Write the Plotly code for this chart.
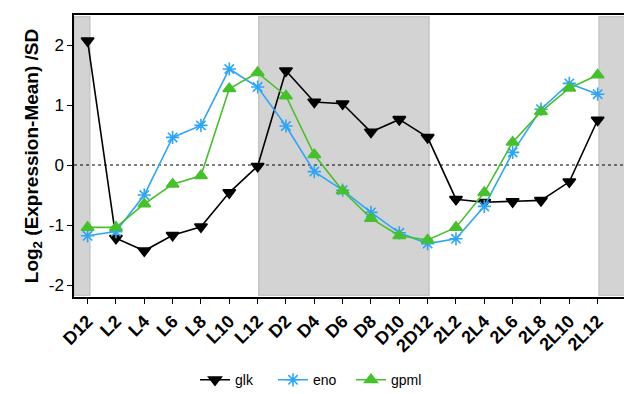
import plotly.graph_objects as go

# Time points (hours in light / dark phases)
timepoints = ["D12", "L2", "L4", "L6", "L8", "L10", "L12", "D2", "D4", "D6",
              "D8", "D10", "2D12", "2L2", "2L4", "2L6", "2L8", "2L10", "2L12"]

glk = [2.07, -1.22, -1.43, -1.17, -1.03, -0.46, -0.02, 1.57, 1.05, 1.02,
       0.55, 0.76, 0.46, -0.57, -0.62, -0.61, -0.59, -0.28, 0.75]
eno = [-1.18, -1.11, -0.50, 0.46, 0.66, 1.60, 1.30, 0.65, -0.11, -0.42,
       -0.79, -1.13, -1.31, -1.23, -0.69, 0.21, 0.93, 1.36, 1.18]
gpml = [-1.04, -1.04, -0.65, -0.32, -0.18, 1.27, 1.54, 1.15, 0.17, -0.43,
        -0.89, -1.18, -1.25, -1.04, -0.46, 0.38, 0.89, 1.28, 1.50]

# Dark periods (category index ranges)
dark_periods = [(-0.48, 0.08), (6.04, 12.05), (18.05, 19.0)]

X_RANGE = [-0.48, 18.93]
FONT = "Liberation Sans, Arial, sans-serif"

fig = go.Figure()

series = [
    ("glk", glk, "black", "triangle-down", 11),
    ("eno", eno, "#2ea6f7", "asterisk-open", 11),
    ("gpml", gpml, "#46c12c", "triangle-up", 11),
]
for name, vals, color, symbol, size in series:
    fig.add_trace(go.Scatter(
        x=list(range(len(timepoints))), y=vals, name=name, mode="lines+markers",
        line=dict(color=color, width=1.6),
        marker=dict(symbol=symbol, size=size, color=color,
                    line=dict(color=color, width=1.6)),
    ))

shapes = []
for x0, x1 in dark_periods:
    shapes.append(dict(type="rect", xref="x", yref="y", x0=x0, x1=x1,
                       y0=-2.17, y1=2.47, fillcolor="#d3d3d3",
                       line=dict(color="#c6c6c6", width=1.5), layer="below"))
shapes.append(dict(type="line", xref="x", yref="y", x0=X_RANGE[0], x1=X_RANGE[1],
                   y0=0, y1=0, line=dict(color="black", width=1, dash="dot"),
                   layer="below"))

fig.update_layout(
    width=624, height=394,
    margin=dict(l=74, r=0, t=15, b=97, autoexpand=False),
    plot_bgcolor="white", paper_bgcolor="white",
    font=dict(family=FONT, color="black"),
    shapes=shapes,
    showlegend=True,
    legend=dict(orientation="h", xref="container", yref="container",
                x=0.5, xanchor="center", y=0.035, yanchor="middle",
                font=dict(size=14, family=FONT), tracegroupgap=0,
                entrywidth=33, entrywidthmode="pixels"),
    xaxis=dict(
        range=X_RANGE, automargin=False,
        tickmode="array", tickvals=list(range(len(timepoints))), ticktext=timepoints,
        tickangle=-45, tickfont=dict(size=18, family=FONT, weight="bold"),
        showline=True, linecolor="black", linewidth=1.5, mirror=False,
        ticks="outside", ticklen=5, tickwidth=1.2, tickcolor="black",
        showgrid=False, zeroline=False,
    ),
    xaxis2=dict(overlaying="x", side="top", showline=True, linecolor="black",
                linewidth=1.5, showticklabels=False, ticks="", showgrid=False,
                range=[0, 1]),
    yaxis=dict(
        range=[-2.2, 2.5], automargin=False,
        tickvals=[2, 1, 0, -1, -2], ticktext=["2", "1", "0", "-1", "-2"],
        tickfont=dict(size=17, family=FONT),
        showline=True, linecolor="black", linewidth=1.5,
        ticks="outside", ticklen=5, tickwidth=1.2, tickcolor="black",
        showgrid=False, zeroline=False,
        title=dict(text="<b>Log<sub>2</sub> (Expression-Mean) /SD</b>",
                   font=dict(size=19, family=FONT), standoff=5),
    ),
)

# invisible trace to anchor the top border axis
fig.add_trace(go.Scatter(x=[0], y=[0], xaxis="x2", mode="markers",
                         marker=dict(opacity=0), showlegend=False, hoverinfo="skip"))

fig.write_html("out.html")
